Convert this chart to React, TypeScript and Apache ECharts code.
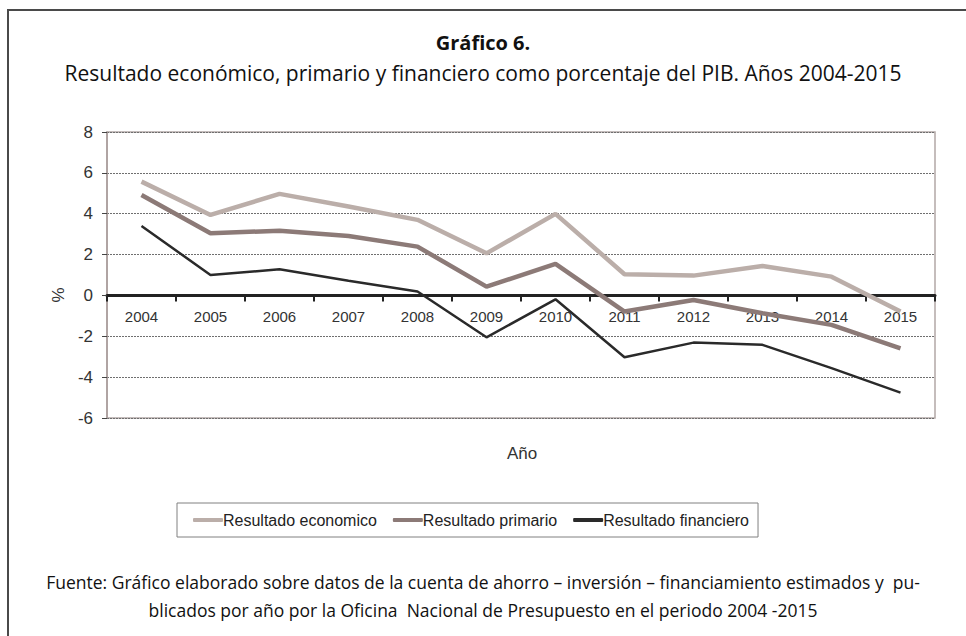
import React, { useEffect, useRef } from "react";
import * as echarts from "echarts";

const years = ["2004", "2005", "2006", "2007", "2008", "2009", "2010", "2011", "2012", "2013", "2014", "2015"];
const economico = [5.57, 3.94, 4.97, 4.35, 3.7, 2.06, 3.99, 1.04, 0.97, 1.44, 0.92, -0.79];
const primario = [4.92, 3.04, 3.17, 2.91, 2.39, 0.43, 1.54, -0.79, -0.22, -0.87, -1.44, -2.59];
const financiero = [3.4, 1.0, 1.28, 0.72, 0.19, -2.05, -0.19, -3.03, -2.31, -2.42, -3.56, -4.76];
const seriesNames = ["Resultado economico", "Resultado primario", "Resultado financiero"];
const titleMain = "Gráfico 6";
const subtitle = "Resultado económico, primario y financiero como porcentaje del PIB. Años 2004-2015";
const source1 = "Fuente: Gráfico elaborado sobre datos de la cuenta de ahorro – inversión – financiamiento estimados y  pu-";
const source2 = "blicados por año por la Oficina  Nacional de Presupuesto en el periodo 2004 -2015";

const chartFont = "'Liberation Sans', Arial, sans-serif";
const textFont = "'Open Sans', sans-serif";

const yMin = -6;
const yMax = 8;
const gridTop = 132;
const gridBottomPx = 418;

export default function App() {
  const ref = useRef<HTMLDivElement>(null);
  useEffect(() => {
    if (!ref.current) return;
    const chart = echarts.init(ref.current, null, { renderer: "svg" });
    const zeroOffset = -((gridBottomPx - gridTop) * (0 - yMin)) / (yMax - yMin);
    chart.setOption({
      animation: false,
      backgroundColor: "#ffffff",
      title: [
        {
          text: "{b|" + titleMain + "}{n|.}",
          left: "center",
          top: 27,
          textStyle: {
            rich: {
              b: { fontFamily: textFont, fontWeight: "bold", fontSize: 20, color: "#111" },
              n: { fontFamily: textFont, fontSize: 20, color: "#111" },
            },
          },
        },
        {
          text: subtitle,
          left: "center",
          top: 57,
          textStyle: { fontFamily: textFont, fontWeight: "normal", fontSize: 21, color: "#111" },
        },
      ],
      legend: {
        left: 177,
        top: 503,
        padding: [9, 9, 9, 16],
        borderColor: "#808080",
        borderWidth: 1,
        itemWidth: 30,
        itemHeight: 4,
        itemGap: 16,
        icon: "roundRect",
        textStyle: { fontFamily: chartFont, fontSize: 16, color: "#222", padding: [0, 0, 0, -5] },
        data: seriesNames,
      },
      grid: {
        left: 107,
        top: gridTop,
        right: 31,
        bottom: 636 - gridBottomPx,
        show: true,
        borderColor: "#b3a8a6",
        borderWidth: 1.5,
      },
      xAxis: {
        type: "category",
        data: years,
        boundaryGap: true,
        offset: zeroOffset,
        axisLine: { onZero: false, lineStyle: { color: "#222", width: 3 } },
        axisTick: { show: true, length: 6, lineStyle: { color: "#222", width: 2 } },
        axisLabel: { interval: 0, margin: 14, fontFamily: chartFont, fontSize: 15, color: "#333" },
        splitLine: { show: false },
      },
      yAxis: {
        type: "value",
        min: yMin,
        max: yMax,
        interval: 2,
        axisLine: { show: true, lineStyle: { color: "#a89d9b", width: 1.5 } },
        axisTick: { show: true, length: 5, lineStyle: { color: "#444" } },
        axisLabel: { margin: 14, fontFamily: chartFont, fontSize: 17, color: "#333" },
        splitLine: { show: true, lineStyle: { color: "#6f6f6f", width: 1, type: [2, 1] } },
      },
      series: [
        {
          name: seriesNames[0],
          type: "line",
          data: economico,
          showSymbol: false,
          symbol: "none",
          lineStyle: { color: "#bbaea9", width: 4.5 },
          itemStyle: { color: "#bbaea9" },
        },
        {
          name: seriesNames[1],
          type: "line",
          data: primario,
          showSymbol: false,
          symbol: "none",
          lineStyle: { color: "#8c7a77", width: 4.5 },
          itemStyle: { color: "#8c7a77" },
        },
        {
          name: seriesNames[2],
          type: "line",
          data: financiero,
          showSymbol: false,
          symbol: "none",
          lineStyle: { color: "#2a2a2a", width: 2.5 },
          itemStyle: { color: "#2a2a2a" },
        },
      ],
      graphic: [
        { type: "line", shape: { x1: 8, y1: 10, x2: 966, y2: 10 }, style: { stroke: "#4a4a4a", lineWidth: 2 } },
        { type: "line", shape: { x1: 8, y1: 9, x2: 8, y2: 636 }, style: { stroke: "#4a4a4a", lineWidth: 2 } },
        {
          type: "text",
          x: 58,
          y: 295,
          rotation: Math.PI / 2,
          style: { text: "%", fontFamily: chartFont, fontSize: 17, fill: "#333", textAlign: "center", textVerticalAlign: "middle" },
        },
        {
          type: "text",
          x: 522,
          y: 453,
          style: { text: "Año", fontFamily: chartFont, fontSize: 17, fill: "#333", textAlign: "center", textVerticalAlign: "middle" },
        },
        {
          type: "text",
          x: 483,
          y: 582,
          style: { text: source1, fontFamily: textFont, fontSize: 17.5, fill: "#111", textAlign: "center", textVerticalAlign: "middle" },
        },
        {
          type: "text",
          x: 483,
          y: 610,
          style: { text: source2, fontFamily: textFont, fontSize: 17.5, fill: "#111", textAlign: "center", textVerticalAlign: "middle" },
        },
      ],
    });
    return () => chart.dispose();
  }, []);
  return <div ref={ref} style={{ position: "fixed", left: 0, top: 0, width: 966, height: 636 }} />;
}
